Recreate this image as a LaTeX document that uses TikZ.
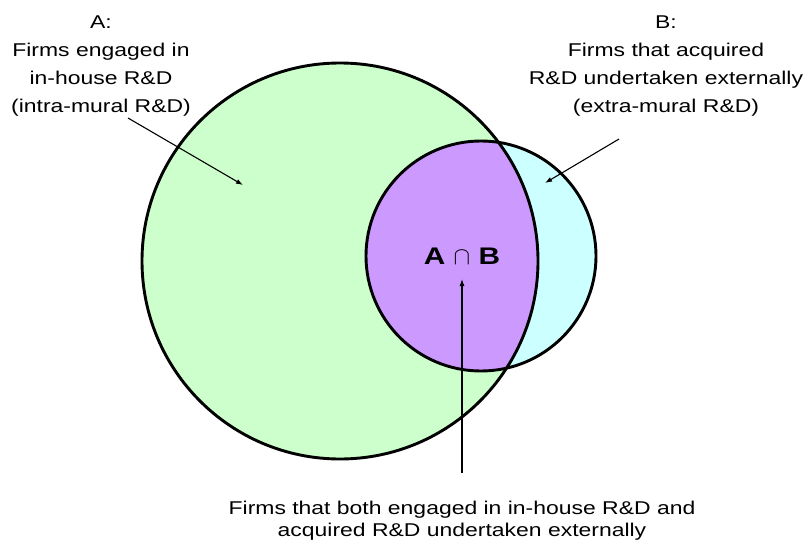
\documentclass[tikz,border=0pt]{standalone}
\usepackage{fontspec}
\setmainfont{Liberation Sans}[FakeStretch=1.24]
\usetikzlibrary{arrows.meta,calc}
\definecolor{setagreen}{HTML}{CCFFCC}
\definecolor{setbcyan}{HTML}{CCFFFF}
\definecolor{setabviolet}{HTML}{CC99FF}
\tikzset{
  setline/.style={line width=2.9pt, black},
  arrow/.style={-{Latex[length=7pt,width=5pt]}, line width=1.1pt, black},
  setlabel/.style={align=center, inner sep=0pt, font=\fontsize{18.5}{28}\selectfont},
}
\begin{document}
\begin{tikzpicture}[x=1pt,y=-1pt]
\useasboundingbox (0,0) rectangle (808,543);
\coordinate (cA) at (340,261);
\coordinate (cB) at (481,256);
% sets
\fill[setagreen] (cA) circle (198);
\fill[setbcyan] (cB) circle (115);
\begin{scope}
  \clip (cA) circle (198);
  \fill[setabviolet] (cB) circle (115);
\end{scope}
\draw[setline] (cA) circle (198);
\draw[setline] (cB) circle (115);
\node[font=\fontsize{24}{28}\selectfont\bfseries] (ab) at (462,256) {A $\cap$ B};
% labels
\node[setlabel, anchor=base] (labA) at (101,112) {A:\\Firms engaged in\\in-house R\&D\\(intra-mural R\&D)};
\node[setlabel, anchor=base] (labB) at (666,112) {B:\\Firms that acquired\\R\&D undertaken externally\\(extra-mural R\&D)};
\node[setlabel, anchor=base, font=\fontsize{18.5}{22}\selectfont] (labAB) at (462,536) {Firms that both engaged in in-house R\&D and\\acquired R\&D undertaken externally};
% arrows
\coordinate (aTail) at (128,118);
\coordinate (aTip) at (243,185);
\coordinate (bTail) at (619,139);
\coordinate (bTip) at (545,183);
\coordinate (abTail) at (462,473);
\coordinate (abTip) at (462,279);
\draw[arrow] (aTail) -- (aTip);
\draw[arrow] (bTail) -- (bTip);
\draw[arrow] (abTail) -- (abTip);
\end{tikzpicture}
\end{document}
